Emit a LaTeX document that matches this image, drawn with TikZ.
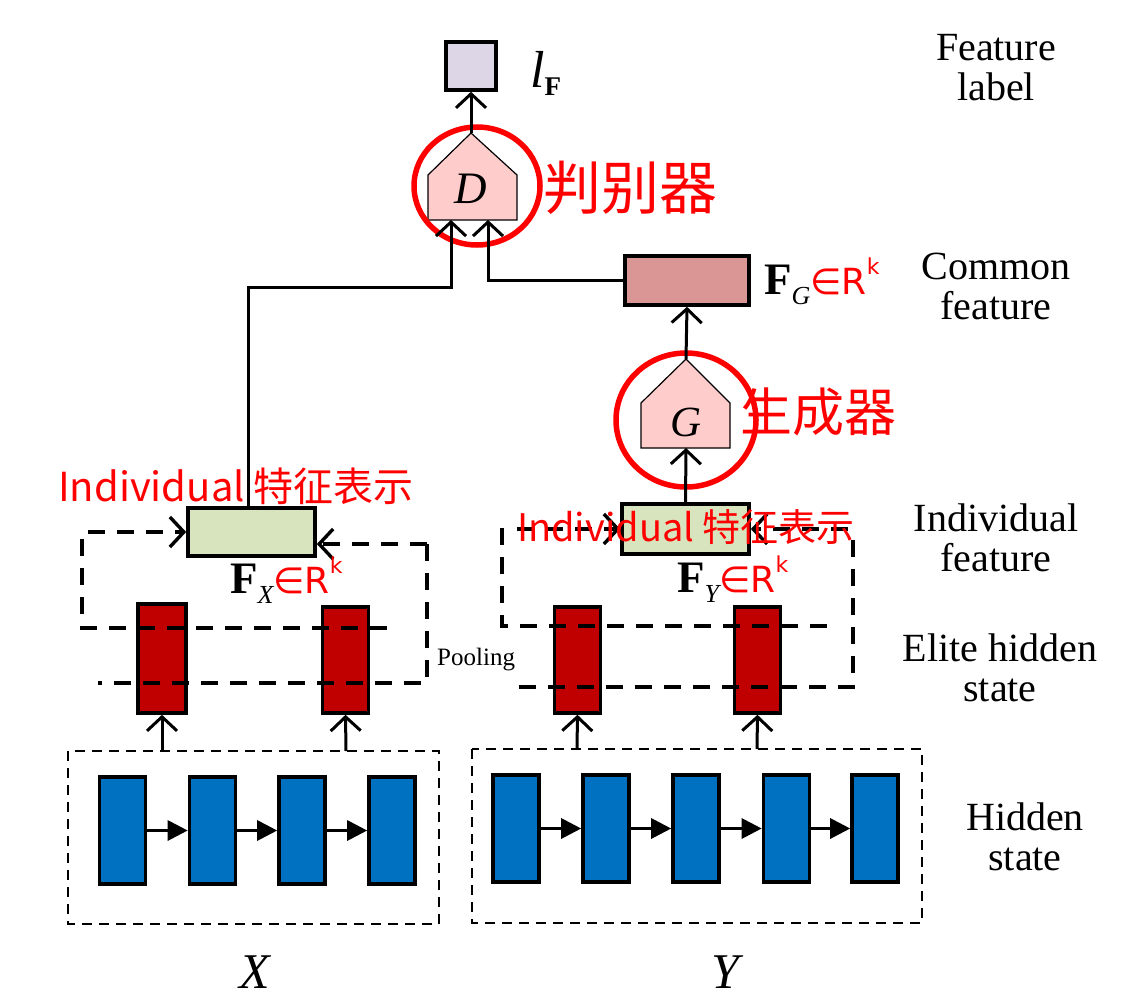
\documentclass[tikz,border=0pt]{standalone}
\usepackage{fontspec}
\setmainfont{Liberation Serif}
\newfontfamily\cjk{Noto Sans CJK SC}
\newfontfamily\dv{DejaVu Sans}
\usetikzlibrary{arrows.meta,calc}
\definecolor{lfc}{RGB}{221,214,230}
\definecolor{fgc}{RGB}{217,150,148}
\definecolor{fxc}{RGB}{215,228,189}
\definecolor{elc}{RGB}{192,0,0}
\definecolor{hsc}{RGB}{0,112,192}
\definecolor{pent}{RGB}{255,204,204}
\definecolor{hand}{RGB}{255,0,0}
\begin{document}
\begin{tikzpicture}[x=1pt,y=-1pt,
  blk/.style={draw=black,line width=3.6pt,inner sep=0pt},
  conn/.style={draw=black,line width=3pt},
  oarr/.style={-{Straight Barb[length=14pt,width=30pt]}},
  farr/.style={-{Triangle[length=20pt,width=20pt]}},
  pool/.style={draw=black,line width=3.4pt,dash pattern=on 17pt off 12pt},
  hbox/.style={draw=black,line width=2pt,dash pattern=on 10pt off 7pt},
  elite/.style={blk,fill=elc,minimum width=46pt,minimum height=106pt},
  hid/.style={blk,fill=hsc,minimum width=46pt,minimum height=107pt},
  penta/.style={draw=black,line width=1.2pt,fill=pent},
  ring/.style={draw=hand,line width=5.5pt},
  side/.style={align=center,font=\fontsize{40}{40}\selectfont},
  redtxt/.style={text=hand,font=\cjk}
]
\useasboundingbox (0,0) rectangle (1148,998);

% ---------- hidden state boxes ----------
\draw[hbox] (68,751) rectangle (439,924);
\draw[hbox] (472,749) rectangle (922,923);
\foreach \i/\x in {1/122.5,2/212.5,3/302,4/392}
  \node[hid] (H\i) at (\x,830.5) {};
\foreach \i/\x in {1/516,2/606,3/696,4/786.5,5/875}
  \node[hid] (K\i) at (\x,828.5) {};
\draw[conn,farr] (H1.east) -- (H2.west);
\draw[conn,farr] (H2.east) -- (H3.west);
\draw[conn,farr] (H3.east) -- (H4.west);
\draw[conn,farr] (K1.east) -- (K2.west);
\draw[conn,farr] (K2.east) -- (K3.west);
\draw[conn,farr] (K3.east) -- (K4.west);
\draw[conn,farr] (K4.east) -- (K5.west);

% ---------- elite hidden states ----------
\node[elite,minimum height=109pt,minimum width=48pt] (E1) at (162,658.5) {};
\node[elite] (E2) at (345.5,660) {};
\node[elite] (E3) at (577.5,660) {};
\node[elite] (E4) at (757.5,660) {};
\coordinate (a1) at (162,751);
\coordinate (a2) at (346,751);
\coordinate (a3) at (577,749);
\coordinate (a4) at (757,749);
\draw[conn,oarr] (a1) -- (E1.south);
\draw[conn,oarr] (a2) -- (E2.south);
\draw[conn,oarr] (a3) -- (E3.south);
\draw[conn,oarr] (a4) -- (E4.south);

% ---------- individual features ----------
\node[blk,fill=fxc,minimum width=127pt,minimum height=48pt] (FX) at (251.5,532) {};
\node[blk,fill=fxc,minimum width=127pt,minimum height=50pt] (FY) at (685.5,529) {};

% pooling brackets (left)
\coordinate (pl1) at (88,532);
\coordinate (pl2) at (427,544);
\draw[pool,oarr] (pl1) -- (FX.west);
\draw[pool] (82,539) -- (82,628) -- (398,628);
\draw[pool,oarr] (pl2) -- ($(FX.east)+(0,12)$);
\draw[pool] (427,544) -- (427,683) -- (98,683);
% pooling brackets (right)
\coordinate (pr1) at (517,529);
\coordinate (pr2) at (848,529);
\draw[pool,oarr] (pr1) -- (FY.west);
\draw[pool] (502,528) -- (502,626) -- (828,626);
\draw[pool,oarr] (pr2) -- (FY.east);
\draw[pool] (853,540) -- (853,687) -- (517,687);
\node[anchor=base west,font=\fontsize{25}{25}\selectfont,inner sep=0pt] (pool) at (437,665) {Pooling};

% ---------- generator G ----------
\draw[penta] (686,359) -- (730,403) -- (730,448) -- (641,448) -- (641,403) -- cycle;
\coordinate (Gtop) at (686,359);
\coordinate (Gbot) at (686,448);
\node[font=\fontsize{43}{43}\selectfont\itshape] (G) at (686,422) {G};
\draw[ring] (686,420) ellipse [x radius=70pt, y radius=67pt];
\draw[conn,oarr] (FY.north) -- (Gbot);

% ---------- common feature ----------
\node[blk,fill=fgc,minimum width=124pt,minimum height=49pt] (FG) at (687,280.5) {};
\draw[conn,oarr] (Gtop) -- (FG.south);

% ---------- discriminator D ----------
\draw[penta] (471,133) -- (517,175) -- (517,220) -- (428,220) -- (428,175) -- cycle;
\coordinate (Dtop) at (471,133);
\coordinate (Din1) at (451,220);
\coordinate (Din2) at (488,220);
\node[font=\fontsize{45}{45}\selectfont\itshape] (D) at (471,189) {D};
\draw[ring] (477,186) ellipse [x radius=63pt, y radius=59pt];
\draw[conn,oarr] ([xshift=-3.5pt]FX.north) |- ($(Din1)+(0,67)$) -- (Din1);
\draw[conn,oarr] (FG.west) -| (Din2);

% ---------- feature label ----------
\node[blk,fill=lfc,minimum width=50pt,minimum height=48pt] (lF) at (471,66) {};
\draw[conn,oarr] (Dtop) -- (lF.south);
\node[anchor=base west,inner sep=0pt] (lFl) at (530,88)
  {{\fontsize{52}{52}\selectfont\itshape l}\raisebox{-8pt}{\fontsize{27}{27}\selectfont\bfseries F}};

% ---------- feature names ----------
\node[anchor=base west,inner sep=0pt] (FGl) at (764,294)
  {{\fontsize{45}{45}\selectfont\bfseries F}\raisebox{-10pt}{\fontsize{26}{26}\selectfont\itshape G}\textcolor{hand}{\fontsize{36}{36}\dv ∈R\raisebox{20pt}{\fontsize{22}{22}\selectfont k}}};
\node[anchor=base west,inner sep=0pt] (FXl) at (230,593)
  {{\fontsize{45}{45}\selectfont\bfseries F}\raisebox{-10pt}{\fontsize{26}{26}\selectfont\itshape X}\textcolor{hand}{\fontsize{36}{36}\dv ∈R\raisebox{20pt}{\fontsize{22}{22}\selectfont k}}};
\node[anchor=base west,inner sep=0pt] (FYl) at (677,592)
  {{\fontsize{45}{45}\selectfont\bfseries F}\raisebox{-10pt}{\fontsize{26}{26}\selectfont\itshape Y}\textcolor{hand}{\fontsize{36}{36}\dv ∈R\raisebox{20pt}{\fontsize{22}{22}\selectfont k}}};

% ---------- input labels ----------
\node[font=\fontsize{50}{50}\selectfont\itshape] (X) at (255,972) {X};
\node[font=\fontsize{50}{50}\selectfont\itshape] (Y) at (725,972) {Y};

% ---------- side labels ----------
\node[side] (s1) at (996,68) {Feature\\label};
\node[side] (s2) at (996,286) {Common\\feature};
\node[side] (s3) at (996,538) {Individual\\feature};
\node[side] (s4) at (1000,668) {Elite hidden\\state};
\node[side] (s5) at (1025,837) {Hidden\\state};

% ---------- red handwritten notes ----------
\node[redtxt,font=\cjk\fontsize{58}{58}\selectfont] (n1) at (630,188) {判别器};
\node[redtxt,font=\cjk\fontsize{52}{52}\selectfont] (n2) at (818,412) {生成器};
\node[redtxt,font=\cjk\fontsize{40}{40}\selectfont] (n3) at (236,486) {Individual 特征表示};
\node[redtxt,font=\cjk\fontsize{38}{38}\selectfont] (n4) at (686,527) {Individual 特征表示};
\end{tikzpicture}
\end{document}
